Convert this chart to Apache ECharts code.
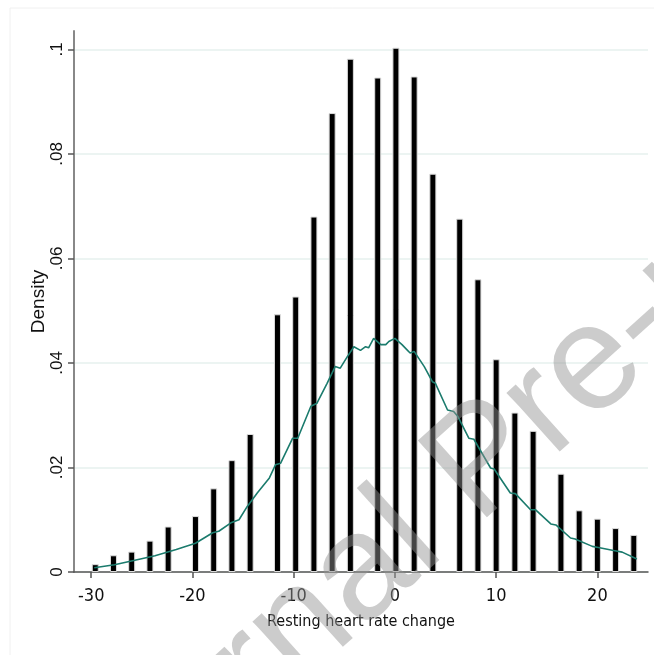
<!DOCTYPE html>
<html>
<head>
<meta charset="utf-8">
<script src="https://cdn.jsdelivr.net/npm/echarts@6/dist/echarts.min.js"></script>
<style>
  html, body { margin: 0; padding: 0; background: #fff; }
  #chart { width: 654px; height: 655px; }
</style>
</head>
<body>
<div id="chart"></div>
<script>
// histogram bars (bin position, density)
const barX = [-29.6, -27.8, -26.0, -24.2, -22.4, -19.7, -17.9, -16.1, -14.3, -11.6, -9.8, -8.0, -6.2, -4.4,
              -1.7, 0.1, 1.9, 3.75, 6.4, 8.2, 10.0, 11.85, 13.65, 16.4, 18.2, 20.0, 21.8, 23.6];
const barY = [0.0015, 0.0032, 0.0039, 0.006, 0.0087, 0.0107, 0.016, 0.0214, 0.0264, 0.0493, 0.0527, 0.068, 0.0878, 0.0982,
              0.0946, 0.1003, 0.0948, 0.0762, 0.0676, 0.056, 0.0407, 0.0305, 0.027, 0.0188, 0.0118, 0.0102, 0.0084, 0.0071];

// kernel density line
const lineX = [-29.7, -27.7, -25.8, -23.7, -21.6, -19.7, -18.0, -17.4, -16.2, -15.4, -14.6, -13.6, -12.4, -11.8, -11.3,
               -10.1, -9.6, -8.3, -7.7, -6.7, -5.9, -5.4, -4.7, -4.05, -3.4, -2.9, -2.6, -2.1, -1.4, -0.9, -0.6, 0.0,
               0.7, 1.2, 1.5, 1.9, 2.9, 3.7, 4.0, 5.2, 5.8, 6.2, 7.3, 7.8, 9.45, 9.8, 11.4, 11.9, 13.4, 13.9, 15.4,
               15.9, 17.35, 17.8, 19.5, 20.1, 21.6, 22.45, 23.9];
const lineY = [0.0008, 0.0014, 0.0022, 0.0031, 0.0043, 0.0055, 0.0075, 0.0078, 0.0094, 0.0100, 0.0125, 0.0151, 0.0180, 0.0205, 0.0208,
               0.0256, 0.0256, 0.0317, 0.0323, 0.0361, 0.0393, 0.0390, 0.0412, 0.0431, 0.0424, 0.0431, 0.0429, 0.0447, 0.0435, 0.0435, 0.0441, 0.0447,
               0.0435, 0.0425, 0.0419, 0.0422, 0.0393, 0.0364, 0.0361, 0.0310, 0.0307, 0.0298, 0.0256, 0.0254, 0.0199, 0.0197, 0.0151, 0.0150, 0.0119, 0.0119, 0.0092,
               0.0090, 0.0065, 0.0063, 0.0049, 0.0047, 0.0041, 0.0038, 0.0025];

const xTicks = [-30, -20, -10, 0, 10, 20];
const yTicks = [0, 0.02, 0.04, 0.06, 0.08, 0.1];
const yTickLabels = ['0', '.02', '.04', '.06', '.08', '.1'];

const narrow = '"DejaVu Sans Condensed", "Liberation Sans", sans-serif';
const sans = '"Liberation Sans", Arial, sans-serif';

const chart = echarts.init(document.getElementById('chart'));

const option = {
    animation: false,
    backgroundColor: '#fff',
    grid: { left: 74, right: 6, top: 31, bottom: 83, containLabel: false },
    xAxis: {
        type: 'value',
        min: -31.7,
        max: 25.0,
        name: 'Resting heart rate change',
        nameLocation: 'middle',
        nameGap: 42,
        nameMoveOverlap: false,
        nameTextStyle: { fontFamily: narrow, fontSize: 16, color: '#111' },
        axisLine: { show: true, onZero: false, lineStyle: { color: '#555', width: 1.5 } },
        axisTick: { show: true, customValues: xTicks, length: 6, lineStyle: { color: '#555', width: 1.5 } },
        axisLabel: { customValues: xTicks, fontFamily: narrow, fontSize: 18, color: '#111', margin: 15 },
        splitLine: { show: false }
    },
    yAxis: {
        type: 'value',
        min: 0,
        max: 0.1035,
        name: 'Density',
        nameLocation: 'middle',
        nameGap: 26,
        nameRotate: 90,
        nameMoveOverlap: false,
        nameTextStyle: { fontFamily: sans, fontSize: 19, color: '#111' },
        axisLine: { show: true, onZero: false, lineStyle: { color: '#888', width: 2 } },
        axisTick: { show: true, customValues: yTicks, length: 6, lineStyle: { color: '#555', width: 1.5 } },
        axisLabel: {
            customValues: yTicks,
            rotate: 90,
            fontFamily: sans,
            fontSize: 17,
            color: '#111',
            margin: 8,
            formatter: v => {
                const i = yTicks.findIndex(t => Math.abs(t - v) < 1e-9);
                return i >= 0 ? yTickLabels[i] : '';
            }
        },
        splitLine: { show: true, lineStyle: { color: '#e6f0ee', width: 1.5 } }
    },
    series: [
        {
            type: 'bar',
            data: barX.map((x, i) => [x, barY[i]]),
            barWidth: 7,
            itemStyle: { color: '#000', borderColor: '#dcdcdc', borderWidth: 1 },
            z: 2
        },
        {
            type: 'line',
            data: lineX.map((x, i) => [x, lineY[i]]),
            showSymbol: false,
            lineStyle: { color: '#1b7b6d', width: 1.6 },
            z: 3
        }
    ],
    graphic: [
        {
            type: 'rect',
            shape: { x: 10, y: 8, width: 700, height: 700 },
            style: { fill: 'none', stroke: '#f0f0f0', lineWidth: 1 },
            silent: true,
            z: 0
        },
        {
            // watermark
            type: 'text',
            x: 484,
            y: 464,
            rotation: 42 * Math.PI / 180,
            style: {
                text: 'Journal Pre-proof',
                font: '150px "Liberation Sans", Arial, sans-serif',
                fill: 'rgba(146,146,146,0.47)',
                align: 'center',
                verticalAlign: 'middle'
            },
            silent: true,
            z: 100
        }
    ]
};

chart.setOption(option);
</script>
</body>
</html>
